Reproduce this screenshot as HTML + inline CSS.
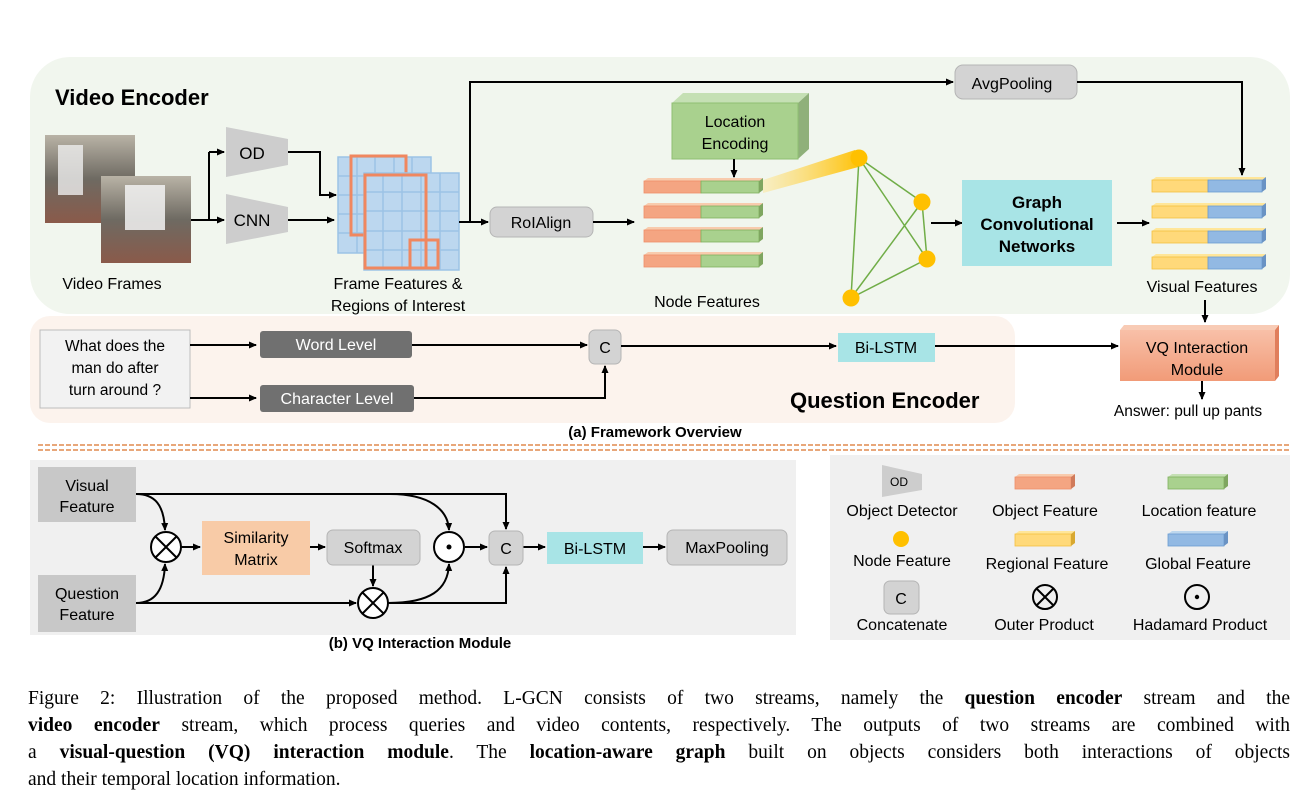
<!DOCTYPE html>
<html><head><meta charset="utf-8"><style>
html,body{margin:0;padding:0;background:#fff;}
svg{display:block;}
text{font-family:"Liberation Sans",sans-serif;}
.cap{position:absolute;left:28px;width:1262px;font-family:"Liberation Serif",serif;font-size:19.5px;line-height:27px;height:27px;white-space:nowrap;text-align:justify;text-align-last:justify;color:#000;}
.cap.l{text-align-last:left;}
</style></head><body>
<div style="position:relative;width:1316px;height:810px;overflow:hidden">
<svg width="1316" height="810" viewBox="0 0 1316 810" xmlns="http://www.w3.org/2000/svg">
<defs>
<marker id="a" markerWidth="8" markerHeight="8" refX="7" refY="4" orient="auto" markerUnits="userSpaceOnUse"><path d="M0,0.5 L8,4 L0,7.5 z" fill="#000"/></marker>
<linearGradient id="beam" x1="0" x2="1"><stop offset="0" stop-color="#fbe9a6" stop-opacity="0.6"/><stop offset="1" stop-color="#ffc000"/></linearGradient>
<linearGradient id="img1" x1="0" y1="0" x2="0" y2="1"><stop offset="0" stop-color="#b9b3a6"/><stop offset="0.5" stop-color="#6e6a62"/><stop offset="1" stop-color="#8a5a4a"/></linearGradient>
<linearGradient id="vq" x1="0" y1="0" x2="0" y2="1"><stop offset="0" stop-color="#f8c0a8"/><stop offset="1" stop-color="#f19b78"/></linearGradient>
</defs>

<rect x="30" y="57" width="1260" height="257" rx="40" fill="#f1f6ee"/>
<rect x="30" y="316" width="985" height="107" rx="20" fill="#fcf3ed"/>
<text x="55" y="105" font-size="22" font-weight="bold">Video Encoder</text>

<rect x="45" y="135" width="90" height="88" fill="url(#img1)"/>
<rect x="58" y="145" width="25" height="50" fill="#eeeeee" opacity="0.8"/>
<rect x="101" y="176" width="90" height="87" fill="url(#img1)"/>
<rect x="125" y="185" width="40" height="45" fill="#f2f2f2" opacity="0.85"/>
<text x="112" y="289" font-size="16" text-anchor="middle">Video Frames</text>

<path d="M191,220 H209 M209,152 V220" stroke="#000" stroke-width="2" fill="none"/>
<path d="M209,152 H224" stroke="#000" stroke-width="2" marker-end="url(#a)"/>
<path d="M209,220 H224" stroke="#000" stroke-width="2" marker-end="url(#a)"/>
<polygon points="226,127 288,139 288,165 226,177" fill="#cdcdcd"/>
<text x="252" y="159" font-size="17" text-anchor="middle">OD</text>
<polygon points="226,194 288,207 288,232 226,244" fill="#cdcdcd"/>
<text x="252" y="226" font-size="17" text-anchor="middle">CNN</text>
<path d="M288,152 H320 V195 H336" stroke="#000" stroke-width="2" fill="none" marker-end="url(#a)"/>
<path d="M288,220 H334" stroke="#000" stroke-width="2" marker-end="url(#a)"/>

<g stroke="#9cc3e6" stroke-width="1.5">
<rect x="338" y="157" width="93" height="96" fill="#bcd7ef"/>
<path d="M357,157V253 M375,157V253 M394,157V253 M412,157V253 M338,176H431 M338,195H431 M338,214H431 M338,233H431" fill="none"/>
</g>
<rect x="351" y="156" width="55" height="79" fill="none" stroke="#f0875f" stroke-width="3"/>
<g stroke="#9cc3e6" stroke-width="1.5">
<rect x="364" y="173" width="95" height="97" fill="#bcd7ef"/>
<path d="M383,173V270 M402,173V270 M421,173V270 M440,173V270 M364,192H459 M364,211H459 M364,231H459 M364,250H459" fill="none"/>
</g>
<rect x="365" y="175" width="61" height="93" fill="none" stroke="#f0875f" stroke-width="3"/>
<rect x="410" y="240" width="28" height="28" fill="none" stroke="#f0875f" stroke-width="3"/>
<text x="398" y="289" font-size="16" text-anchor="middle">Frame Features &amp;</text>
<text x="398" y="311" font-size="16" text-anchor="middle">Regions of Interest</text>

<path d="M459,222 H488" stroke="#000" stroke-width="2" marker-end="url(#a)"/>
<path d="M470,222 V82 H953" stroke="#000" stroke-width="2" fill="none" marker-end="url(#a)"/>
<rect x="490" y="207" width="103" height="30" rx="7" fill="#d3d3d3" stroke="#b5b5b5"/>
<text x="541" y="228" font-size="16" text-anchor="middle">RoIAlign</text>
<path d="M593,222 H634" stroke="#000" stroke-width="2" marker-end="url(#a)"/>

<rect x="955" y="65" width="122" height="34" rx="8" fill="#d3d3d3" stroke="#b5b5b5"/>
<text x="1012" y="89" font-size="16" text-anchor="middle">AvgPooling</text>
<path d="M1077,82 H1242 V175" stroke="#000" stroke-width="2" fill="none" marker-end="url(#a)"/>

<polygon points="672,103 683,93 809,93 798,103" fill="#c5e0b4"/>
<polygon points="798,103 809,93 809,149 798,159" fill="#8fb07a"/>
<rect x="672" y="103" width="126" height="56" fill="#a9d18e" stroke="#8fbf72"/>
<text x="735" y="127" font-size="16" text-anchor="middle">Location</text>
<text x="735" y="149" font-size="16" text-anchor="middle">Encoding</text>
<path d="M734,159 V177" stroke="#000" stroke-width="2" marker-end="url(#a)"/>

<polygon points="763,180 855,150 862,166 763,193" fill="url(#beam)"/>

<g id="nb">
<polygon points="644,181 648,178 763,178 759,181" fill="#f8cbad"/>
<rect x="644" y="181" width="57" height="12" fill="#f4a582" stroke="#ee8e68" stroke-width="0.8"/>
<rect x="701" y="181" width="58" height="12" fill="#a9d18e" stroke="#7fb05e" stroke-width="0.8"/>
<polygon points="759,181 763,178 763,190 759,193" fill="#7fa660"/>
</g>
<use href="#nb" y="25"/><use href="#nb" y="49"/><use href="#nb" y="74"/>
<text x="707" y="307" font-size="16" text-anchor="middle">Node Features</text>

<g stroke="#70ad47" stroke-width="1.5">
<line x1="859" y1="158" x2="922" y2="202"/><line x1="859" y1="158" x2="927" y2="259"/>
<line x1="859" y1="158" x2="851" y2="298"/><line x1="922" y1="202" x2="851" y2="298"/>
<line x1="922" y1="202" x2="927" y2="259"/><line x1="927" y1="259" x2="851" y2="298"/>
</g>
<g fill="#ffc000"><circle cx="859" cy="158" r="8.5"/><circle cx="922" cy="202" r="8.5"/><circle cx="927" cy="259" r="8.5"/><circle cx="851" cy="298" r="8.5"/></g>
<path d="M931,223 H962" stroke="#000" stroke-width="2" marker-end="url(#a)"/>
<rect x="962" y="180" width="150" height="86" fill="#a8e4e6"/>
<text x="1037" y="208" font-size="17" font-weight="bold" text-anchor="middle">Graph</text>
<text x="1037" y="230" font-size="17" font-weight="bold" text-anchor="middle">Convolutional</text>
<text x="1037" y="252" font-size="17" font-weight="bold" text-anchor="middle">Networks</text>
<path d="M1117,223 H1149" stroke="#000" stroke-width="2" marker-end="url(#a)"/>

<g id="vb">
<polygon points="1152,180 1156,177 1266,177 1262,180" fill="#ffe699"/>
<rect x="1152" y="180" width="56" height="12" fill="#ffd97a" stroke="#f4c040" stroke-width="0.8"/>
<rect x="1208" y="180" width="54" height="12" fill="#92b9e3" stroke="#6a9bd0" stroke-width="0.8"/>
<polygon points="1262,180 1266,177 1266,189 1262,192" fill="#6a93c4"/>
</g>
<use href="#vb" y="26"/><use href="#vb" y="51"/><use href="#vb" y="77"/>
<text x="1202" y="292" font-size="16" text-anchor="middle">Visual Features</text>
<path d="M1205,300 V322" stroke="#000" stroke-width="2" marker-end="url(#a)"/>

<rect x="40" y="330" width="150" height="78" fill="#f2f2f2" stroke="#bdbdbd"/>
<text x="115" y="351" font-size="15.5" text-anchor="middle">What does the</text>
<text x="115" y="373" font-size="15.5" text-anchor="middle">man do after</text>
<text x="115" y="395" font-size="15.5" text-anchor="middle">turn around ?</text>
<path d="M190,345 H256" stroke="#000" stroke-width="2" marker-end="url(#a)"/>
<path d="M190,398 H256" stroke="#000" stroke-width="2" marker-end="url(#a)"/>
<rect x="260" y="331" width="152" height="27" rx="3" fill="#707070"/>
<text x="336" y="350" font-size="16" fill="#fff" text-anchor="middle">Word Level</text>
<rect x="260" y="385" width="154" height="27" rx="3" fill="#707070"/>
<text x="337" y="404" font-size="16" fill="#fff" text-anchor="middle">Character Level</text>
<path d="M412,345 H587" stroke="#000" stroke-width="2" marker-end="url(#a)"/>
<path d="M414,398 H605 V366" stroke="#000" stroke-width="2" fill="none" marker-end="url(#a)"/>
<rect x="589" y="330" width="32" height="34" rx="6" fill="#d3d3d3" stroke="#b5b5b5"/>
<text x="605" y="353" font-size="16" text-anchor="middle">C</text>
<path d="M621,346 H836" stroke="#000" stroke-width="2" marker-end="url(#a)"/>
<rect x="838" y="333" width="97" height="29" fill="#a8e4e6"/>
<text x="886" y="353" font-size="16" text-anchor="middle">Bi-LSTM</text>
<path d="M935,346 H1118" stroke="#000" stroke-width="2" marker-end="url(#a)"/>
<text x="790" y="408" font-size="22" font-weight="bold">Question Encoder</text>

<polygon points="1120,330 1124,325 1279,325 1275,330" fill="#f8cbb5"/>
<polygon points="1275,330 1279,325 1279,376 1275,381" fill="#e07e5c"/>
<rect x="1120" y="330" width="155" height="51" fill="url(#vq)"/>
<text x="1197" y="353" font-size="16" text-anchor="middle">VQ Interaction</text>
<text x="1197" y="375" font-size="16" text-anchor="middle">Module</text>
<path d="M1202,381 V399" stroke="#000" stroke-width="2" marker-end="url(#a)"/>
<text x="1188" y="416" font-size="15.5" text-anchor="middle">Answer: pull up pants</text>

<text x="655" y="437" font-size="15" font-weight="bold" text-anchor="middle">(a) Framework Overview</text>
<path d="M38,445 H1290 M38,450 H1290" stroke="#e8a77a" stroke-width="2" stroke-dasharray="5,2"/>

<rect x="30" y="460" width="766" height="175" fill="#f0f0f0"/>
<rect x="38" y="467" width="98" height="55" fill="#c8c8c8"/>
<text x="87" y="491" font-size="16" text-anchor="middle">Visual</text>
<text x="87" y="512" font-size="16" text-anchor="middle">Feature</text>
<rect x="38" y="575" width="98" height="57" fill="#c8c8c8"/>
<text x="87" y="599" font-size="16" text-anchor="middle">Question</text>
<text x="87" y="620" font-size="16" text-anchor="middle">Feature</text>
<g stroke="#000" stroke-width="2" fill="none">
<path d="M136,494 H506 V529" marker-end="url(#a)"/>
<path d="M136,494 C155,494 164,505 165,530" marker-end="url(#a)"/>
<path d="M136,494 H390 C430,494 448,510 449,530" marker-end="url(#a)"/>
<path d="M136,603 C155,603 164,590 165,564" marker-end="url(#a)"/>
<path d="M136,603 H356" marker-end="url(#a)"/>
<path d="M181,547 H200" marker-end="url(#a)"/>
<path d="M310,547 H325" marker-end="url(#a)"/>
<path d="M373,565 V586" marker-end="url(#a)"/>
<path d="M388,603 C430,603 448,590 449,564" marker-end="url(#a)"/>
<path d="M388,603 H506 V567" marker-end="url(#a)"/>
<path d="M465,547 H487" marker-end="url(#a)"/>
<path d="M523,547 H545" marker-end="url(#a)"/>
<path d="M643,547 H665" marker-end="url(#a)"/>
<circle cx="166" cy="547" r="15" fill="#fff"/><path d="M155,536 L177,558 M177,536 L155,558"/>
<circle cx="373" cy="603" r="15" fill="#fff"/><path d="M362,592 L384,614 M384,592 L362,614"/>
<circle cx="449" cy="547" r="15" fill="#fff"/>
</g>
<circle cx="449" cy="547" r="2.5" fill="#000"/>
<rect x="202" y="521" width="108" height="54" fill="#f8cba7"/>
<text x="256" y="543" font-size="16" text-anchor="middle">Similarity</text>
<text x="256" y="565" font-size="16" text-anchor="middle">Matrix</text>
<rect x="327" y="530" width="93" height="35" rx="6" fill="#d3d3d3" stroke="#b5b5b5"/>
<text x="373" y="553" font-size="16" text-anchor="middle">Softmax</text>
<rect x="489" y="531" width="34" height="34" rx="6" fill="#d3d3d3" stroke="#b5b5b5"/>
<text x="506" y="554" font-size="16" text-anchor="middle">C</text>
<rect x="547" y="532" width="96" height="32" fill="#a8e4e6"/>
<text x="595" y="554" font-size="16" text-anchor="middle">Bi-LSTM</text>
<rect x="667" y="530" width="120" height="35" rx="6" fill="#d3d3d3" stroke="#b5b5b5"/>
<text x="727" y="553" font-size="16" text-anchor="middle">MaxPooling</text>
<text x="420" y="648" font-size="15" font-weight="bold" text-anchor="middle">(b) VQ Interaction Module</text>

<rect x="830" y="455" width="460" height="185" fill="#f0f0f0"/>
<polygon points="882,465 922,474 922,490 882,497" fill="#cdcdcd"/>
<text x="899" y="486" font-size="12" text-anchor="middle">OD</text>
<text x="902" y="516" font-size="16" text-anchor="middle">Object Detector</text>
<polygon points="1015,477 1019,474 1075,474 1071,477" fill="#f8cbad"/>
<rect x="1015" y="477" width="56" height="12" fill="#f4a582" stroke="#ee8e68" stroke-width="0.8"/>
<polygon points="1071,477 1075,474 1075,486 1071,489" fill="#d07a5a"/>
<text x="1045" y="516" font-size="16" text-anchor="middle">Object Feature</text>
<polygon points="1168,477 1172,474 1228,474 1224,477" fill="#c5e0b4"/>
<rect x="1168" y="477" width="56" height="12" fill="#a9d18e" stroke="#7fb05e" stroke-width="0.8"/>
<polygon points="1224,477 1228,474 1228,486 1224,489" fill="#7fa660"/>
<text x="1199" y="516" font-size="16" text-anchor="middle">Location feature</text>
<circle cx="901" cy="539" r="8" fill="#ffc000"/>
<text x="902" y="566" font-size="16" text-anchor="middle">Node Feature</text>
<polygon points="1015,534 1019,531 1075,531 1071,534" fill="#ffe699"/>
<rect x="1015" y="534" width="56" height="12" fill="#ffd97a" stroke="#f4c040" stroke-width="0.8"/>
<polygon points="1071,534 1075,531 1075,543 1071,546" fill="#d8a830"/>
<text x="1047" y="569" font-size="16" text-anchor="middle">Regional Feature</text>
<polygon points="1168,534 1172,531 1228,531 1224,534" fill="#bdd7ee"/>
<rect x="1168" y="534" width="56" height="12" fill="#92b9e3" stroke="#6a9bd0" stroke-width="0.8"/>
<polygon points="1224,534 1228,531 1228,543 1224,546" fill="#6a93c4"/>
<text x="1198" y="569" font-size="16" text-anchor="middle">Global Feature</text>
<rect x="884" y="581" width="35" height="33" rx="6" fill="#d3d3d3" stroke="#b5b5b5"/>
<text x="901" y="604" font-size="16" text-anchor="middle">C</text>
<text x="902" y="630" font-size="16" text-anchor="middle">Concatenate</text>
<g stroke="#000" stroke-width="2" fill="none">
<circle cx="1045" cy="597" r="12"/><path d="M1036.5,588.5 L1053.5,605.5 M1053.5,588.5 L1036.5,605.5"/>
<circle cx="1197" cy="597" r="12"/>
</g>
<circle cx="1197" cy="597" r="2.2" fill="#000"/>
<text x="1044" y="630" font-size="16" text-anchor="middle">Outer Product</text>
<text x="1200" y="630" font-size="16" text-anchor="middle">Hadamard Product</text>
</svg>
<div class="cap" style="top:685px">Figure 2: Illustration of the proposed method. L-GCN consists of two streams, namely the <b>question encoder</b> stream and the</div>
<div class="cap" style="top:712px"><b>video encoder</b> stream, which process queries and video contents, respectively. The outputs of two streams are combined with</div>
<div class="cap" style="top:739px">a <b>visual-question (VQ) interaction module</b>. The <b>location-aware graph</b> built on objects considers both interactions of objects</div>
<div class="cap l" style="top:766px">and their temporal location information.</div>
</div>
</body></html>
